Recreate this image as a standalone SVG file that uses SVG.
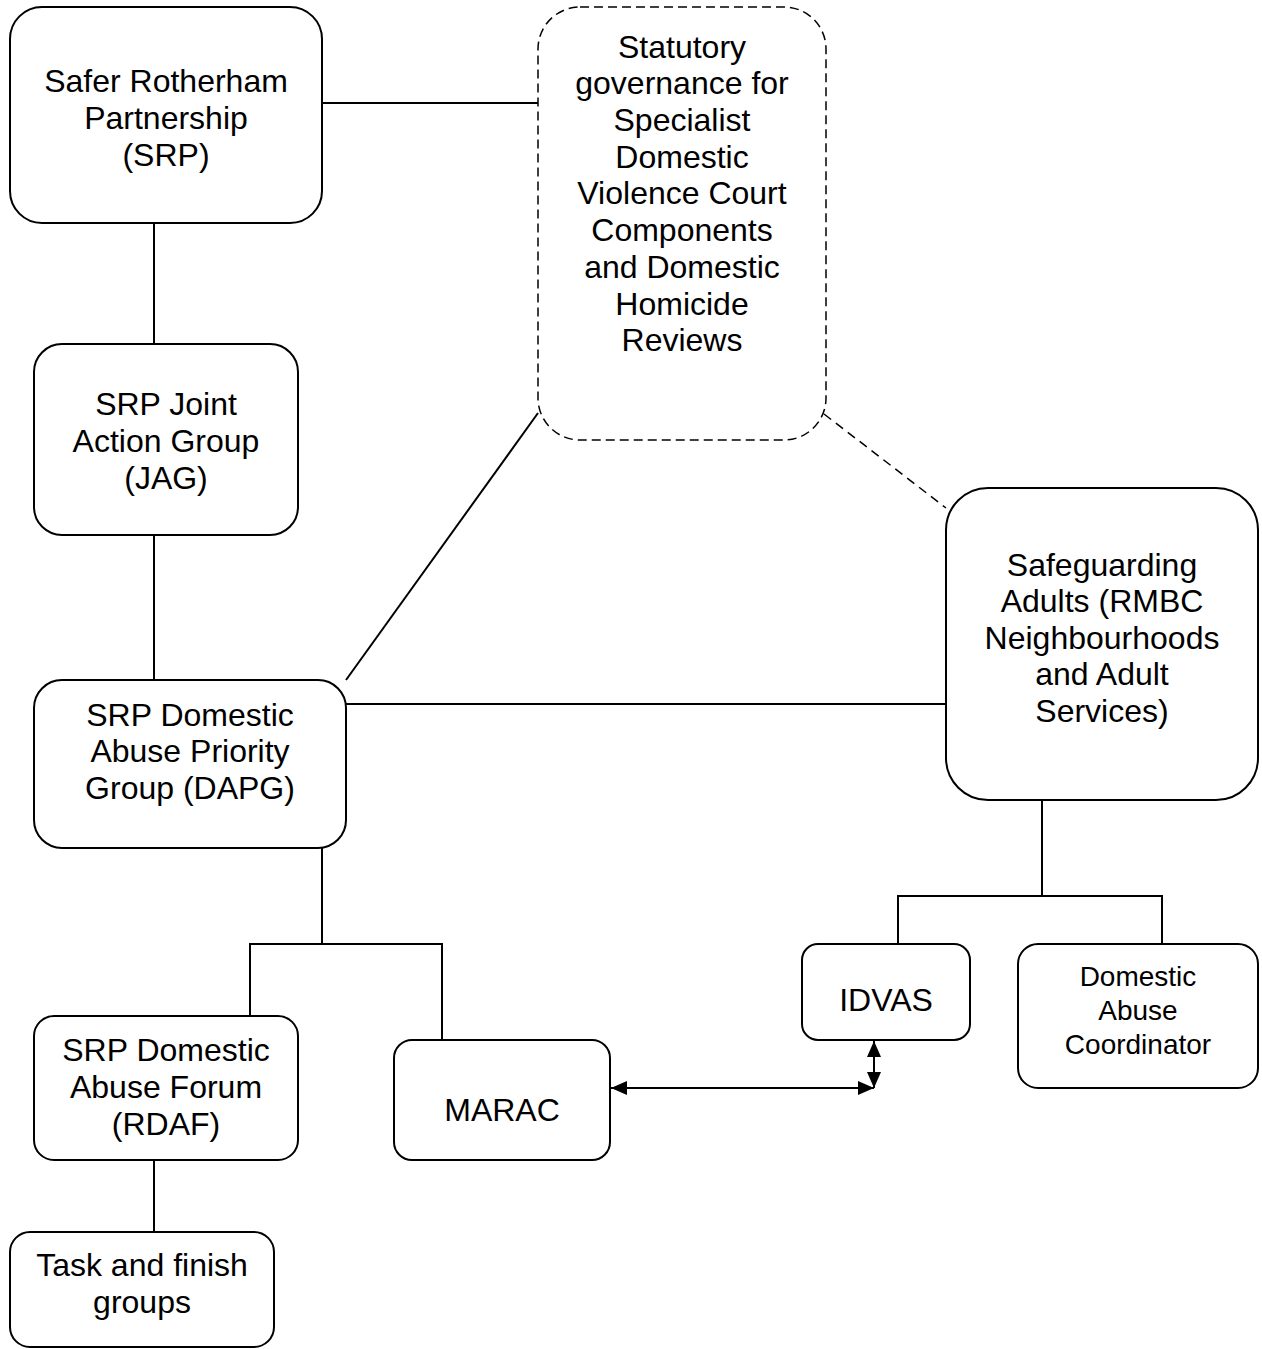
<svg xmlns="http://www.w3.org/2000/svg" width="1262" height="1349" viewBox="0 0 1262 1349">
<style>
.box{fill:#fff;stroke:#000;stroke-width:2}
.dash{fill:#fff;stroke:#000;stroke-width:1.5;stroke-dasharray:9 5}
.ln{fill:none;stroke:#000;stroke-width:2}
.dl{fill:none;stroke:#000;stroke-width:1.5;stroke-dasharray:9 6}
text{font-family:"Liberation Sans",Arial,sans-serif;font-size:32px;fill:#000;text-anchor:middle}
.sm{font-size:28px}
</style>
<defs>
<marker id="ah" viewBox="0 0 16 14" refX="16" refY="7" markerWidth="16" markerHeight="14" markerUnits="userSpaceOnUse" orient="auto-start-reverse">
<path d="M0,0 L16,7 L0,14 z" fill="#000"/>
</marker>
</defs>
<g id="connectors">
<line class="ln" x1="322" y1="103" x2="538" y2="103"/>
<line class="ln" x1="154" y1="208" x2="154" y2="344"/>
<line class="ln" x1="154" y1="535" x2="154" y2="680"/>
<line class="ln" x1="346" y1="680" x2="538" y2="413"/>
<line class="dl" x1="824" y1="414" x2="946" y2="508"/>
<line class="ln" x1="346" y1="704" x2="946" y2="704"/>
<polyline class="ln" points="322,848 322,944 250,944 250,1016"/>
<polyline class="ln" points="322,944 442,944 442,1040"/>
<polyline class="ln" points="1042,800 1042,896 898,896 898,944"/>
<polyline class="ln" points="1042,896 1162,896 1162,944"/>
<line class="ln" x1="154" y1="1160" x2="154" y2="1232"/>
<line class="ln" x1="611" y1="1088" x2="874" y2="1088" marker-start="url(#ah)" marker-end="url(#ah)"/>
<line class="ln" x1="874" y1="1041" x2="874" y2="1088" marker-start="url(#ah)" marker-end="url(#ah)"/>
</g>
<g id="srp">
<rect class="box" x="10" y="7" width="312" height="216" rx="32"/>
<text x="166" y="92">Safer Rotherham</text>
<text x="166" y="129">Partnership</text>
<text x="166" y="166">(SRP)</text>
</g>
<g id="statutory">
<rect class="dash" x="538" y="7" width="288" height="433" rx="42"/>
<text x="682" y="58">Statutory</text>
<text x="682" y="94">governance for</text>
<text x="682" y="131">Specialist</text>
<text x="682" y="168">Domestic</text>
<text x="682" y="204">Violence Court</text>
<text x="682" y="241">Components</text>
<text x="682" y="278">and Domestic</text>
<text x="682" y="315">Homicide</text>
<text x="682" y="351">Reviews</text>
</g>
<g id="jag">
<rect class="box" x="34" y="344" width="264" height="191" rx="28"/>
<text x="166" y="415">SRP Joint</text>
<text x="166" y="452">Action Group</text>
<text x="166" y="489">(JAG)</text>
</g>
<g id="dapg">
<rect class="box" x="34" y="680" width="312" height="168" rx="28"/>
<text x="190" y="726">SRP Domestic</text>
<text x="190" y="762">Abuse Priority</text>
<text x="190" y="799">Group (DAPG)</text>
</g>
<g id="safeguarding">
<rect class="box" x="946" y="488" width="312" height="312" rx="42"/>
<text x="1102" y="576">Safeguarding</text>
<text x="1102" y="612">Adults (RMBC</text>
<text x="1102" y="649">Neighbourhoods</text>
<text x="1102" y="685">and Adult</text>
<text x="1102" y="722">Services)</text>
</g>
<g id="idvas">
<rect class="box" x="802" y="944" width="168" height="96" rx="16"/>
<text x="886" y="1011">IDVAS</text>
</g>
<g id="coordinator">
<rect class="box" x="1018" y="944" width="240" height="144" rx="20"/>
<text class="sm" x="1138" y="986">Domestic</text>
<text class="sm" x="1138" y="1020">Abuse</text>
<text class="sm" x="1138" y="1054">Coordinator</text>
</g>
<g id="rdaf">
<rect class="box" x="34" y="1016" width="264" height="144" rx="20"/>
<text x="166" y="1061">SRP Domestic</text>
<text x="166" y="1098">Abuse Forum</text>
<text x="166" y="1135">(RDAF)</text>
</g>
<g id="marac">
<rect class="box" x="394" y="1040" width="216" height="120" rx="18"/>
<text x="502" y="1121">MARAC</text>
</g>
<g id="task">
<rect class="box" x="10" y="1232" width="264" height="115" rx="20"/>
<text x="142" y="1276">Task and finish</text>
<text x="142" y="1313">groups</text>
</g>
</svg>
